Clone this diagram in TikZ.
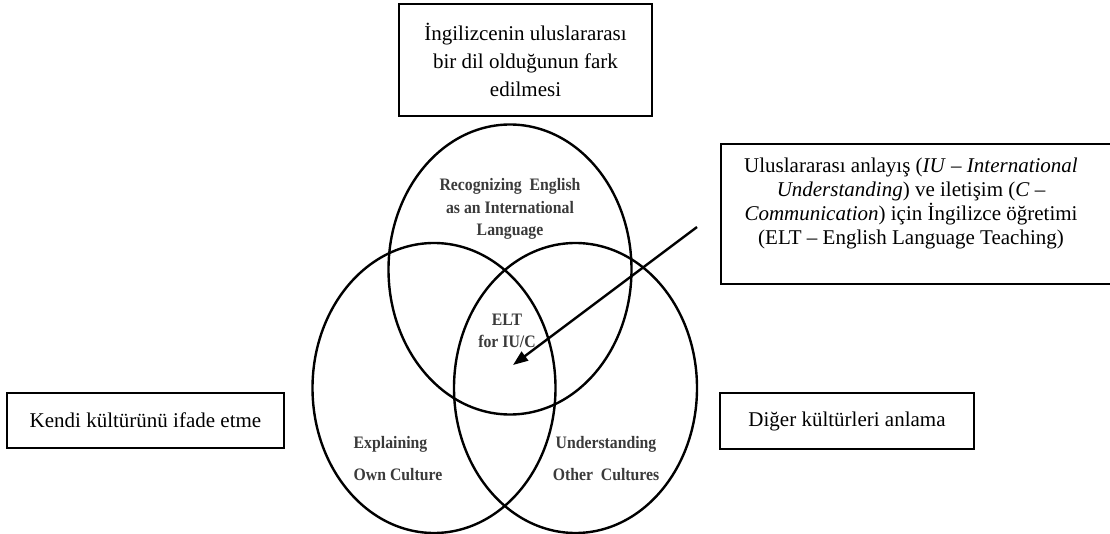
\documentclass[tikz,border=0pt]{standalone}
\usepackage{fontspec}
\setmainfont{Liberation Serif}
\newfontfamily\scanfont[FakeStretch=0.9]{Liberation Serif}
\usepackage{xcolor}
\usepackage{tikz}
\usetikzlibrary{arrows.meta, positioning, shapes.geometric}
\definecolor{ink}{HTML}{000000}
\definecolor{scan}{HTML}{3A3A3A}

\begin{document}
\begin{tikzpicture}[x=1pt, y=-1pt,
    box/.style={rectangle, draw=ink, line width=2pt, text centered, align=center, font=\fontsize{21}{24}\selectfont},
    ring/.style={ellipse, draw=ink, line width=2.4pt, minimum width=243pt, minimum height=290pt, inner sep=0pt},
    lbl/.style={align=center, text=scan, font=\scanfont\fontsize{17.5}{22.5}\selectfont\bfseries},
    arr/.style={-{Triangle[length=15pt, width=11pt]}, line width=2.4pt, color=ink}
]
    \useasboundingbox (0,0) rectangle (1110,534);

    \node[ring] (recog) at (510,269.5) {};
    \node[ring] (explain) at (434,388) {};
    \node[ring] (understand) at (575.5,388) {};

    \node[lbl] (recogtxt) at (510,209) {Recognizing\ \ English\\as an International\\Language};
    \node[lbl] (elttxt) at (507,331) {ELT\\for IU/C};
    \node[lbl, align=left, font=\scanfont\fontsize{17.5}{32}\selectfont\bfseries] (explaintxt) at (398,459) {Explaining\\Own Culture};
    \node[lbl, font=\scanfont\fontsize{17.5}{32}\selectfont\bfseries] (understandtxt) at (606,459) {Understanding\\Other\ \ Cultures};

    \node[box, minimum width=253pt, minimum height=112pt, font=\fontsize{21}{28}\selectfont] (eilbox) at (525.5,60) {İngilizcenin uluslararası\\bir dil olduğunun fark\\edilmesi};

    \node[box, minimum width=394pt, minimum height=140pt, anchor=north west] (iubox) at (720,143) {};
    \node[align=center, font=\fontsize{21}{24}\selectfont] (iutxt) at (911,203) {Uluslararası anlayış (\textit{IU} – \textit{International}\\\textit{Understanding}) ve iletişim (\textit{C} –\\\textit{Communication}) için İngilizce öğretimi\\(ELT – English Language Teaching)};

    \node[box, minimum width=277pt, minimum height=55pt] (ownbox) at (145.5,420.5) {Kendi kültürünü ifade etme};
    \node[box, minimum width=254pt, minimum height=56pt] (otherbox) at (847,421) {Diğer kültürleri anlama};

    \coordinate (arrstart) at (697,227);
    \coordinate (eltcore) at (513,365);
    \draw[arr] (arrstart) -- (eltcore);
\end{tikzpicture}
\end{document}
